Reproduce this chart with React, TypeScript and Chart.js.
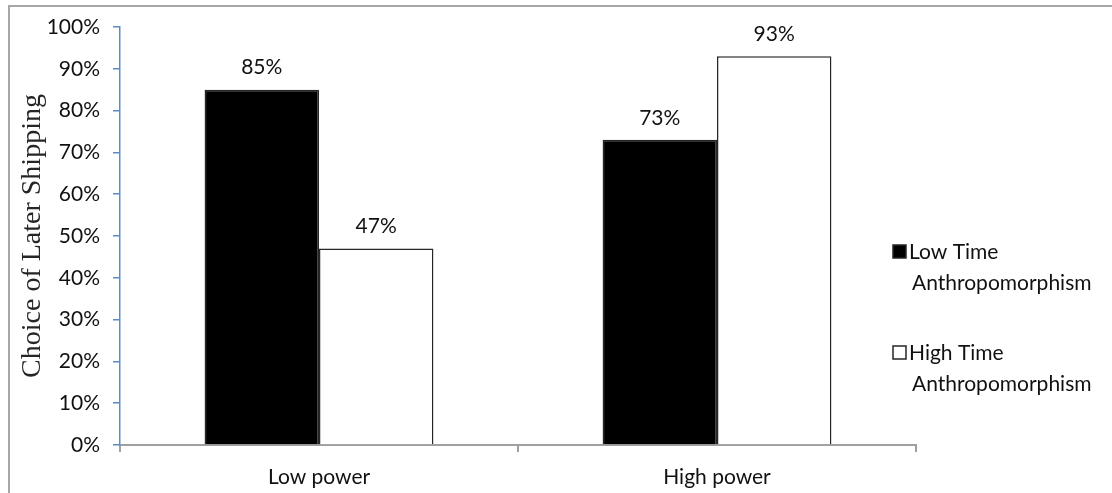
import React, { useEffect, useRef } from "react";
import { Chart, registerables } from "chart.js";

Chart.register(...registerables);

const categories = ["Low power", "High power"];
const lowTimeValues = [85, 73];
const highTimeValues = [47, 93];
const seriesNames = [["Low Time", "Anthropomorphism"], ["High Time", "Anthropomorphism"]];
const yTitle = "Choice of Later Shipping";

const SANS = "Lato, 'Open Sans', sans-serif";
const SERIF = "'Liberation Serif', 'DejaVu Serif', serif";
const TEXT = "#111111";

// Value labels above each bar
const valueLabels = {
  id: "valueLabels",
  afterDatasetsDraw(chart: any) {
    const { ctx } = chart;
    ctx.save();
    ctx.font = `21px ${SANS}`;
    ctx.fillStyle = TEXT;
    ctx.textAlign = "center";
    ctx.textBaseline = "middle";
    chart.data.datasets.forEach((ds: any, di: number) => {
      const meta = chart.getDatasetMeta(di);
      meta.data.forEach((bar: any, i: number) => {
        ctx.fillText(`${ds.data[i]}%`, bar.x, bar.y - 22);
      });
    });
    ctx.restore();
  },
};

// Outer frame plus a two-line legend on the right
const frameAndLegend = {
  id: "frameAndLegend",
  afterDraw(chart: any) {
    const { ctx } = chart;
    ctx.save();
    ctx.strokeStyle = "#a6a6a6";
    ctx.lineWidth = 2;
    ctx.beginPath();
    ctx.moveTo(9, chart.height);
    ctx.lineTo(9, 6);
    ctx.lineTo(chart.width, 6);
    ctx.stroke();

    const tops = [245, 346];
    ctx.font = `21px ${SANS}`;
    ctx.textAlign = "left";
    ctx.textBaseline = "middle";
    chart.data.datasets.forEach((ds: any, i: number) => {
      const y = tops[i];
      ctx.fillStyle = ds.backgroundColor;
      ctx.fillRect(893, y, 13, 13);
      ctx.strokeStyle = "#262626";
      ctx.lineWidth = 1.5;
      ctx.strokeRect(893, y, 13, 13);
      ctx.fillStyle = TEXT;
      const lines = seriesNames[i];
      ctx.fillText(lines[0], 909, y + 7);
      ctx.fillText(lines[1], 912, y + 38);
    });
    ctx.restore();
  },
};

export default function App() {
  const ref = useRef<HTMLCanvasElement>(null);

  useEffect(() => {
    if (!ref.current) return;
    const chart = new Chart(ref.current, {
      type: "bar",
      data: {
        labels: categories,
        datasets: [
          {
            label: seriesNames[0].join(" "),
            data: lowTimeValues,
            backgroundColor: "#000000",
            borderColor: "#262626",
            borderWidth: 1.5,
          },
          {
            label: seriesNames[1].join(" "),
            data: highTimeValues,
            backgroundColor: "#ffffff",
            borderColor: "#262626",
            borderWidth: 1.5,
          },
        ],
      },
      options: {
        responsive: false,
        animation: false,
        layout: { padding: { left: 0, top: 27, right: 196, bottom: 0 } },
        datasets: { bar: { barPercentage: 1, categoryPercentage: 0.575 } },
        plugins: {
          legend: { display: false },
          tooltip: { enabled: false },
        },
        scales: {
          x: {
            grid: {
              offset: true,
              drawOnChartArea: false,
              drawTicks: true,
              tickLength: 7,
              color: "#a0a0a0",
              lineWidth: 2,
            },
            border: { color: "#a0a0a0", width: 2 },
            ticks: {
              font: { family: SANS, size: 21 },
              color: TEXT,
              padding: 13,
            },
            afterFit(scale: any) {
              scale.height = 48;
            },
          },
          y: {
            min: 0,
            max: 100,
            ticks: {
              stepSize: 10,
              callback: (v: any) => `${v}%`,
              font: { family: SANS, size: 21 },
              color: TEXT,
              padding: 13,
            },
            grid: {
              drawOnChartArea: false,
              drawTicks: true,
              tickLength: 7,
              color: "#5b8bc9",
              lineWidth: 1.5,
            },
            border: { color: "#5b8bc9", width: 1.5 },
            title: {
              display: true,
              text: yTitle,
              font: { family: SERIF, size: 28 },
              color: "#262626",
              padding: { top: 16, bottom: 0 },
            },
            afterFit(scale: any) {
              scale.width = 120;
            },
          },
        },
      },
      plugins: [valueLabels, frameAndLegend],
    });
    return () => chart.destroy();
  }, []);

  return (
    <div style={{ position: "fixed", left: 0, top: 0, width: 1112, height: 493, background: "#fff" }}>
      <canvas ref={ref} width={1112} height={493} style={{ display: "block" }} />
    </div>
  );
}
